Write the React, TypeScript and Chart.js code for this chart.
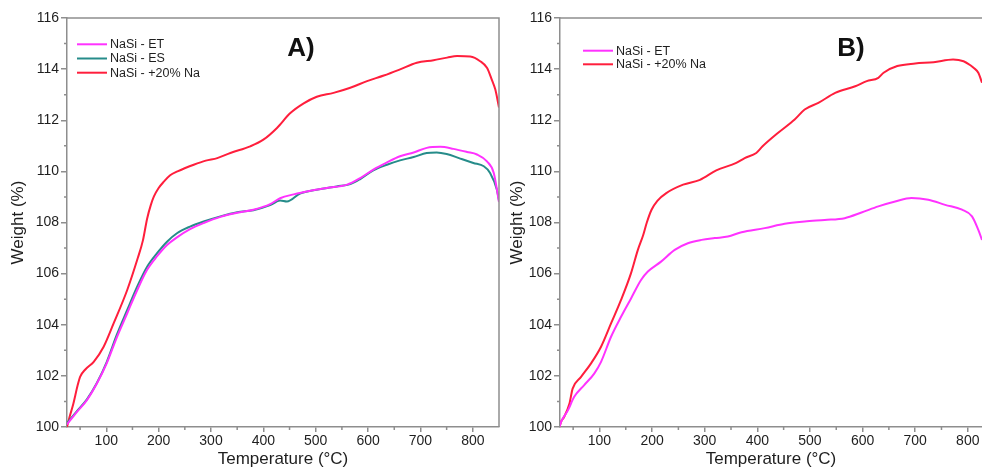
import React, { useEffect, useRef } from "react";
import { Chart, registerables } from "chart.js";

Chart.register(...registerables);

// ---------- data ----------
const X_TICKS = [100, 200, 300, 400, 500, 600, 700, 800];
const X_MINOR = [50, 150, 250, 350, 450, 550, 650, 750, 850];
const Y_TICKS = [100, 102, 104, 106, 108, 110, 112, 114, 116];
const Y_MINOR = [101, 103, 105, 107, 109, 111, 113, 115];

const LABEL_ET = "NaSi - ET";
const LABEL_ES = "NaSi - ES";
const LABEL_NA = "NaSi - +20% Na";

// Panel A
const A_ET_T = [25, 44, 63, 82, 101, 120, 140, 159, 178, 197, 216, 235, 260, 286, 318, 350, 381, 413, 432, 458, 490, 521, 560, 585, 610, 636, 661, 687, 712, 738, 763, 789, 808, 827, 840, 850];
const A_ET_W = [100.1, 100.59, 101.05, 101.7, 102.5, 103.5, 104.45, 105.35, 106.15, 106.68, 107.12, 107.42, 107.74, 107.98, 108.22, 108.38, 108.5, 108.72, 108.95, 109.1, 109.24, 109.35, 109.48, 109.74, 110.07, 110.35, 110.59, 110.74, 110.92, 110.96, 110.88, 110.76, 110.66, 110.39, 109.94, 108.8];

const A_ES_T = [25, 44, 63, 82, 101, 120, 140, 159, 178, 197, 216, 235, 260, 286, 318, 350, 381, 413, 432, 445, 470, 502, 540, 566, 585, 610, 636, 661, 687, 712, 731, 750, 776, 801, 821, 833, 846, 850];
const A_ES_W = [100.15, 100.62, 101.08, 101.72, 102.55, 103.6, 104.58, 105.49, 106.27, 106.8, 107.25, 107.58, 107.84, 108.04, 108.24, 108.4, 108.48, 108.68, 108.86, 108.82, 109.13, 109.28, 109.41, 109.5, 109.7, 110.04, 110.26, 110.43, 110.56, 110.72, 110.74, 110.68, 110.5, 110.33, 110.2, 109.94, 109.28, 108.85];

const A_NA_T = [25, 30, 37, 45, 50, 60, 76, 95, 114, 140, 160, 170, 178, 185, 191, 200, 210, 222, 236, 267, 290, 312, 337, 375, 400, 426, 451, 477, 502, 534, 566, 598, 630, 661, 693, 725, 751, 770, 795, 814, 827, 836, 843, 850];
const A_NA_W = [100.0, 100.4, 100.9, 101.6, 101.96, 102.25, 102.55, 103.14, 104.05, 105.36, 106.6, 107.3, 108.15, 108.68, 109.02, 109.35, 109.6, 109.85, 110.0, 110.26, 110.42, 110.52, 110.72, 110.98, 111.24, 111.7, 112.27, 112.66, 112.92, 113.07, 113.27, 113.53, 113.75, 113.99, 114.25, 114.35, 114.45, 114.51, 114.49, 114.31, 114.05, 113.6, 113.2, 112.5];

// Panel B
const B_ET_T = [24, 27, 40, 52, 71, 90, 103, 122, 141, 160, 179, 192, 217, 243, 268, 294, 319, 344, 370, 414, 452, 490, 528, 566, 598, 630, 662, 693, 725, 757, 789, 808, 820, 827];
const B_ET_W = [100.0, 100.2, 100.65, 101.18, 101.64, 102.09, 102.55, 103.53, 104.31, 105.03, 105.75, 106.08, 106.47, 106.93, 107.19, 107.32, 107.39, 107.45, 107.62, 107.78, 107.95, 108.04, 108.1, 108.17, 108.39, 108.63, 108.82, 108.96, 108.89, 108.69, 108.5, 108.24, 107.71, 107.32];

const B_NA_T = [24, 27, 33, 43, 49, 65, 84, 103, 122, 141, 160, 173, 183, 190, 199, 210, 227, 259, 291, 322, 360, 376, 398, 410, 439, 471, 490, 516, 548, 586, 608, 630, 640, 666, 700, 735, 772, 792, 805, 811, 820, 827];
const B_NA_W = [100.0, 100.2, 100.4, 100.92, 101.5, 101.96, 102.49, 103.14, 104.05, 104.97, 106.02, 106.93, 107.5, 108.0, 108.5, 108.85, 109.15, 109.48, 109.67, 110.04, 110.33, 110.52, 110.72, 110.98, 111.5, 112.03, 112.42, 112.68, 113.07, 113.33, 113.53, 113.66, 113.86, 114.12, 114.22, 114.27, 114.38, 114.31, 114.15, 114.05, 113.86, 113.47];

// ---------- styles ----------
const COL_ET = "rgb(255, 50, 255)";
const COL_ES = "rgb(38, 140, 138)";
const COL_NA = "rgb(255, 30, 60)";
const AXIS = "#8e8e8e";
const TEXT = "#1e1e1e";
const FONT = '"Liberation Sans", Arial, sans-serif';

const pts = (t: number[], w: number[]) => t.map((v, i) => ({ x: v, y: w[i] }));

const ds = (label: string, color: string, t: number[], w: number[]) => ({
  label,
  data: pts(t, w),
  borderColor: color,
  backgroundColor: color,
  borderWidth: 2,
  pointRadius: 0,
  cubicInterpolationMode: "monotone" as const,
  fill: false,
});

const panelDeco = {
  id: "panelDeco",
  afterDraw(chart: any, _args: any, opts: any) {
    const { ctx, chartArea: ca, scales } = chart;
    const xs = scales.x;
    const ys = scales.y;
    ctx.save();
    ctx.strokeStyle = AXIS;
    ctx.lineWidth = 1.5;
    ctx.beginPath();
    ctx.moveTo(ca.left, ca.top);
    ctx.lineTo(ca.right + 0.75, ca.top);
    if (opts.rightBorder) {
      ctx.moveTo(ca.right, ca.top);
      ctx.lineTo(ca.right, ca.bottom);
    }
    ctx.stroke();
    ctx.beginPath();
    X_MINOR.forEach((v) => {
      if (v > xs.min && v < xs.max) {
        const px = xs.getPixelForValue(v);
        ctx.moveTo(px, ca.bottom);
        ctx.lineTo(px, ca.bottom + 3);
      }
    });
    Y_MINOR.forEach((v) => {
      const py = ys.getPixelForValue(v);
      ctx.moveTo(ca.left, py);
      ctx.lineTo(ca.left - 3, py);
    });
    ctx.stroke();

    // legend
    ctx.font = `12.5px ${FONT}`;
    ctx.textBaseline = "middle";
    ctx.textAlign = "left";
    chart.data.datasets.forEach((d: any, i: number) => {
      const yy = opts.legendY + i * opts.legendStep;
      ctx.strokeStyle = d.borderColor;
      ctx.lineWidth = 2;
      ctx.beginPath();
      ctx.moveTo(opts.legendX, yy);
      ctx.lineTo(opts.legendX + 30, yy);
      ctx.stroke();
      ctx.fillStyle = TEXT;
      ctx.fillText(d.label, opts.legendX + 33, yy + 0.5);
    });

    // panel title
    ctx.font = `bold 26px ${FONT}`;
    ctx.textAlign = "center";
    ctx.textBaseline = "alphabetic";
    ctx.fillStyle = "#111";
    ctx.fillText(opts.title, opts.titleX, opts.titleY);
    ctx.restore();
  },
};

function makeConfig(datasets: any[], xMax: number, yAxisWidth: number, padRight: number, deco: any) {
  return {
    type: "line",
    data: { datasets },
    plugins: [panelDeco],
    options: {
      animation: false,
      responsive: false,
      maintainAspectRatio: false,
      events: [],
      layout: { padding: { top: 18, right: padRight, left: 0, bottom: 0 } },
      plugins: {
        legend: { display: false },
        tooltip: { enabled: false },
        panelDeco: deco,
      },
      scales: {
        x: {
          type: "linear",
          min: 25,
          max: xMax,
          afterBuildTicks: (s: any) => {
            s.ticks = X_TICKS.map((v) => ({ value: v }));
          },
          afterFit: (s: any) => {
            s.height = 43;
          },
          border: { display: true, color: AXIS, width: 1.5 },
          grid: { display: true, drawOnChartArea: false, drawTicks: true, tickLength: 5, color: AXIS, lineWidth: 1.5 },
          ticks: { color: TEXT, font: { family: FONT, size: 14 }, padding: 1, maxRotation: 0, autoSkip: false },
          title: { display: true, text: "Temperature (°C)", color: TEXT, font: { family: FONT, size: 17 }, padding: { top: 0, bottom: 0 } },
        },
        y: {
          type: "linear",
          min: 100,
          max: 116,
          afterBuildTicks: (s: any) => {
            s.ticks = Y_TICKS.map((v) => ({ value: v }));
          },
          afterFit: (s: any) => {
            s.width = yAxisWidth;
          },
          border: { display: true, color: AXIS, width: 1.5 },
          grid: { display: true, drawOnChartArea: false, drawTicks: true, tickLength: 6, color: AXIS, lineWidth: 1.5 },
          ticks: { color: TEXT, font: { family: FONT, size: 14 }, padding: 2, autoSkip: false },
          title: { display: true, text: "Weight (%)", color: TEXT, font: { family: FONT, size: 17 }, padding: { top: deco.yTitlePad, bottom: 0 } },
        },
      },
    },
  };
}

function Panel(props: { left: number; width: number; cfg: () => any }) {
  const ref = useRef<HTMLCanvasElement | null>(null);
  useEffect(() => {
    if (!ref.current) return;
    const chart = new Chart(ref.current, props.cfg());
    return () => chart.destroy();
  }, []);
  return (
    <canvas
      ref={ref}
      width={props.width}
      height={470}
      style={{ position: "absolute", left: props.left, top: 0, width: props.width, height: 470 }}
    />
  );
}

export default function App() {
  const cfgA = () =>
    makeConfig(
      [ds(LABEL_ET, COL_ET, A_ET_T, A_ET_W), ds(LABEL_ES, COL_ES, A_ES_T, A_ES_W), ds(LABEL_NA, COL_NA, A_NA_T, A_NA_W)],
      850,
      67,
      6,
      { title: "A)", titleX: 301, titleY: 56, legendX: 77, legendY: 44.3, legendStep: 14.2, rightBorder: true, yTitlePad: 8 }
    );
  const cfgB = () =>
    makeConfig(
      [ds(LABEL_ET, COL_ET, B_ET_T, B_ET_W), ds(LABEL_NA, COL_NA, B_NA_T, B_NA_W)],
      827,
      55,
      0,
      { title: "B)", titleX: 346, titleY: 56, legendX: 78, legendY: 50.7, legendStep: 13.6, rightBorder: false, yTitlePad: 2 }
    );
  return (
    <div style={{ position: "fixed", left: 0, top: 0, width: 982, height: 470, background: "#fff", overflow: "hidden" }}>
      <Panel left={0} width={505} cfg={cfgA} />
      <Panel left={505} width={477} cfg={cfgB} />
    </div>
  );
}
